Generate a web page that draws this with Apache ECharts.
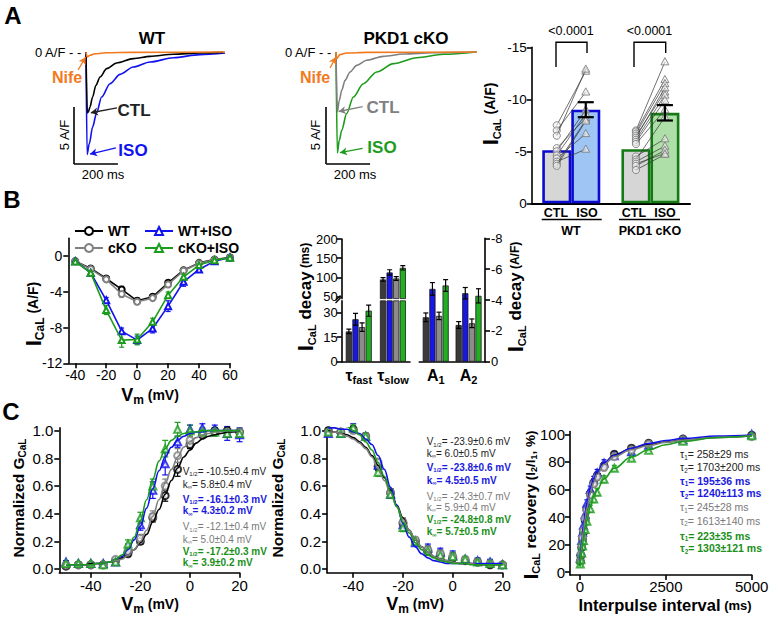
<!DOCTYPE html>
<html>
<head>
<meta charset="utf-8">
<title>ICaL figure</title>
<script src="https://cdn.jsdelivr.net/npm/echarts@6/dist/echarts.min.js"></script>
<style>
html,body{margin:0;padding:0;background:#ffffff;}
#chart{width:772px;height:617px;}
</style>
</head>
<body>
<div id="chart"></div>
<script>
// ================= DATA =================
// Panel A – representative traces (time ms, current A/F)
const wtCtlT  = [0, 6, 11, 18, 30, 45, 64, 94, 139, 215, 291, 397, 518, 624];
const wtCtlI  = [0, -5.35, -5.25, -4.82, -3.95, -2.92, -2.19, -1.46, -0.96, -0.58, -0.38, -0.2, -0.09, -0.03];
const wtIsoT  = [0, 5, 15, 30, 48, 71, 109, 155, 215, 291, 397, 518, 632];
const wtIsoI  = [0, -8.98, -8.04, -6.58, -5.35, -3.95, -2.78, -1.96, -1.32, -0.88, -0.5, -0.23, -0.09];
const wtNifeT = [0, 5, 18, 41, 94, 215, 632];
const wtNifeI = [0, -0.44, -0.29, -0.15, -0.06, -0.03, 0];
const koCtlT  = [0, 6, 15, 26, 41, 64, 94, 139, 215, 306, 442, 639];
const koCtlI  = [0, -5.26, -4.24, -3.36, -2.49, -1.75, -1.17, -0.73, -0.38, -0.18, -0.06, 0];
const koIsoT  = [0, 6, 15, 26, 48, 79, 124, 185, 261, 367, 488, 639];
const koIsoI  = [0, -8.86, -7.75, -6.87, -5.41, -3.95, -2.78, -1.75, -1.02, -0.5, -0.2, 0];
const koNifeT = [0, 3, 18, 48, 139, 639];
const koNifeI = [0, -0.58, -0.23, -0.09, -0.03, 0];
const scaleAF = 5, scaleMs = 200;

// Panel A – peak ICaL bar chart
const barGroups = ['WT', 'PKD1 cKO'];
const ctlMean = [-5.1, -5.2];
const isoMean = [-9.0, -8.7];
const isoSem  = [0.72, 0.74];
const wtCtlPts = [-7.5, -7.0, -6.5, -5.3, -5.0, -4.6, -4.3, -4.0, -3.8, -3.6];
const wtIsoPts = [-12.7, -10.7, -12.9, -8.2, -9.0, -8.6, -6.7, -5.2, -8.0, -7.9];
const koCtlPts = [-7.0, -6.9, -6.7, -6.5, -6.3, -6.1, -5.9, -5.7, -4.5, -4.2, -4.0, -3.8, -3.6, -3.2];
const koIsoPts = [-13.6, -11.9, -11.5, -10.7, -11.1, -10.4, -9.9, -9.0, -6.2, -8.3, -5.5, -4.8, -5.1, -4.7];
const pValues = ['<0.0001', '<0.0001'];

// Panel B – I-V relationship
const ivV = [-40, -30, -20, -10, 0, 10, 20, 30, 40, 50, 60];
const ivWT     = [-0.56, -1.38, -2.5, -3.73, -5.0, -4.55, -2.98, -1.57, -0.75, -0.37, -0.15];
const ivWTsem  = [0.1, 0.12, 0.2, 0.35, 0.3, 0.25, 0.2, 0.15, 0.12, 0.1, 0.08];
const ivKO     = [-0.56, -1.45, -2.6, -4.25, -5.1, -4.7, -3.17, -1.64, -0.8, -0.4, -0.18];
const ivKOsem  = [0.1, 0.12, 0.2, 0.35, 0.3, 0.25, 0.2, 0.15, 0.12, 0.1, 0.08];
const ivWTiso    = [-0.56, -1.87, -4.93, -8.4, -9.4, -8.1, -5.6, -2.87, -1.49, -0.56, -0.15];
const ivWTisoSem = [0.1, 0.15, 0.3, 0.35, 0.45, 0.5, 0.6, 0.5, 0.25, 0.15, 0.1];
const ivKOiso    = [-0.6, -1.87, -6.04, -9.4, -9.33, -7.35, -4.37, -2.31, -1.0, -0.45, -0.19];
const ivKOisoSem = [0.1, 0.15, 0.5, 0.8, 0.6, 0.4, 0.35, 0.3, 0.2, 0.12, 0.1];

// Panel B – decay kinetics
const tauCats = ['τfast', 'τslow'];
const tauWT = [18.4, 94.8],  tauWTsem = [1.4, 4.7];
const tauWTiso = [25.8, 113], tauWTisoSem = [3.6, 7];
const tauKO = [21, 97.4],    tauKOsem = [2.6, 5];
const tauKOiso = [31, 125],  tauKOisoSem = [3.4, 5.6];
const ampCats = ['A1', 'A2'];
const ampWT = [-2.88, -2.38],    ampWTsem = [0.28, 0.22];
const ampWTiso = [-4.72, -4.44], ampWTisoSem = [0.41, 0.37];
const ampKO = [-2.97, -2.49],    ampKOsem = [0.24, 0.28];
const ampKOiso = [-4.94, -4.27], ampKOisoSem = [0.38, 0.46];

// Panel C – activation
const actV = [-50, -45, -40, -35, -30, -25, -20, -15, -10, -5, 0, 5, 10, 15, 20];
const actWT = [0.02, 0.03, 0.03, 0.03, 0.06, 0.11, 0.20, 0.37, 0.53, 0.72, 0.90, 0.97, 1.00, 1.00, 0.99];
const actWTsem = [0.01, 0.01, 0.01, 0.01, 0.01, 0.02, 0.02, 0.03, 0.04, 0.05, 0.03, 0.02, 0.02, 0.02, 0.02];
const actKO = [0.03, 0.03, 0.03, 0.03, 0.07, 0.13, 0.22, 0.38, 0.60, 0.82, 0.93, 0.98, 0.99, 0.99, 0.99];
const actKOsem = [0.01, 0.01, 0.01, 0.01, 0.01, 0.02, 0.03, 0.04, 0.05, 0.05, 0.04, 0.03, 0.02, 0.02, 0.02];
const actWTiso = [0.05, 0.04, 0.04, 0.04, 0.05, 0.15, 0.32, 0.57, 0.76, 0.92, 1.01, 1.02, 1.01, 0.98, 0.97];
const actWTisoSem = [0.01, 0.01, 0.01, 0.01, 0.01, 0.03, 0.04, 0.06, 0.08, 0.04, 0.03, 0.03, 0.03, 0.05, 0.05];
const actKOiso = [0.04, 0.04, 0.04, 0.03, 0.05, 0.18, 0.37, 0.60, 0.87, 1.01, 1.00, 0.99, 0.99, 0.98, 0.98];
const actKOisoSem = [0.01, 0.01, 0.01, 0.01, 0.01, 0.03, 0.04, 0.05, 0.06, 0.05, 0.04, 0.03, 0.03, 0.03, 0.03];
const fitV = [-50, -47.5, -45, -42.5, -40, -37.5, -35, -32.5, -30, -27.5, -25, -22.5, -20, -17.5, -15, -12.5, -10, -7.5, -5, -2.5, 0, 2.5, 5, 7.5, 10, 12.5, 15, 17.5, 20];
const actFitWT    = [0.03,0.03,0.03,0.03,0.04,0.04,0.04,0.05,0.06,0.08,0.10,0.14,0.19,0.25,0.34,0.43,0.54,0.64,0.73,0.81,0.86,0.91,0.94,0.96,0.97,0.98,0.99,0.99,1.00];
const actFitKO    = [0.03,0.03,0.03,0.03,0.03,0.04,0.04,0.05,0.06,0.07,0.10,0.14,0.20,0.28,0.38,0.50,0.62,0.72,0.81,0.88,0.92,0.95,0.97,0.98,0.99,0.99,1.00,1.00,1.00];
const actFitWTiso = [0.03,0.03,0.03,0.03,0.03,0.04,0.04,0.05,0.07,0.09,0.14,0.21,0.31,0.44,0.58,0.71,0.81,0.88,0.93,0.96,0.98,0.99,0.99,1.00,1.00,1.00,1.00,1.00,1.00];
const actFitKOiso = [0.03,0.03,0.03,0.03,0.03,0.04,0.04,0.05,0.07,0.10,0.15,0.23,0.35,0.50,0.65,0.78,0.87,0.93,0.96,0.98,0.99,0.99,1.00,1.00,1.00,1.00,1.00,1.00,1.00];

// Panel C – steady-state inactivation
const inaWT    = [1.00, 0.99, 1.01, 0.96, 0.74, 0.55, 0.33, 0.20, 0.13, 0.10, 0.08, 0.06, 0.05, 0.03, 0.03];
const inaKO    = [0.99, 0.99, 1.00, 0.96, 0.77, 0.55, 0.34, 0.21, 0.14, 0.11, 0.09, 0.07, 0.05, 0.04, 0.03];
const inaWTiso = [0.98, 0.98, 1.03, 0.96, 0.75, 0.54, 0.32, 0.19, 0.15, 0.12, 0.10, 0.07, 0.06, 0.05, 0.03];
const inaKOiso = [0.99, 0.98, 1.02, 0.96, 0.70, 0.54, 0.30, 0.20, 0.13, 0.10, 0.09, 0.07, 0.05, 0.04, 0.03];
const inaSem   = [0.02, 0.02, 0.02, 0.02, 0.03, 0.03, 0.03, 0.02, 0.03, 0.03, 0.03, 0.02, 0.02, 0.02, 0.01];
const inaFitWT    = [1.00,0.99,0.98,0.97,0.95,0.92,0.88,0.82,0.75,0.66,0.57,0.46,0.37,0.28,0.21,0.16,0.12,0.09,0.07,0.06,0.05,0.04,0.04,0.04,0.03,0.03,0.03,0.03,0.03];
const inaFitKO    = [0.99,0.99,0.98,0.96,0.94,0.91,0.87,0.81,0.73,0.64,0.55,0.45,0.36,0.28,0.21,0.16,0.12,0.09,0.07,0.06,0.05,0.04,0.04,0.04,0.03,0.03,0.03,0.03,0.03];
const inaFitWTiso = [1.02,1.02,1.01,1.01,0.99,0.98,0.94,0.90,0.82,0.72,0.59,0.46,0.33,0.23,0.16,0.11,0.08,0.06,0.05,0.04,0.04,0.04,0.04,0.04,0.04,0.04,0.04,0.04,0.04];
const inaFitKOiso = [1.06,1.05,1.04,1.03,1.00,0.97,0.92,0.86,0.77,0.67,0.56,0.45,0.34,0.26,0.19,0.14,0.10,0.08,0.06,0.05,0.04,0.04,0.04,0.03,0.03,0.03,0.03,0.03,0.03];

// Panel C – recovery from inactivation
const recT = [10, 25, 50, 75, 100, 150, 200, 300, 400, 500, 700, 1000, 1500, 2000, 3000, 5000];
const recWT    = [8, 12, 18, 24, 29, 38, 46, 57, 65, 70, 77, 85.5, 89.9, 93.5, 96.6, 99.3];
const recKO    = [8, 13, 19, 25, 30, 39, 45, 56, 64, 69, 76, 83.8, 88.6, 92.8, 96.0, 98.3];
const recWTiso = [10, 15, 23, 29, 34, 42, 50, 60, 67, 72, 79, 84.5, 87.4, 92.0, 96.0, 100];
const recKOiso = [6, 9, 14, 19, 23, 31, 37, 46, 53, 58, 67.4, 75.4, 82.6, 88.5, 95.0, 99.0];
const recSem   = [1, 1.5, 2, 2, 2.5, 2.5, 2.5, 2.5, 2.5, 2.5, 2.5, 2, 1.5, 1, 1, 1];
const recFitT  = [0, 25, 50, 100, 150, 200, 300, 400, 500, 700, 1000, 1500, 2000, 2500, 3000, 4000, 5000];
const recFitWT    = [5, 11.9, 18.1, 29.1, 38.2, 45.8, 57.5, 65.8, 71.7, 79.2, 85.0, 89.7, 92.5, 94.4, 95.8, 97.7, 98.7];
const recFitKO    = [6, 12.8, 19.0, 29.8, 38.7, 46.1, 57.4, 65.2, 70.9, 78.1, 83.8, 88.8, 91.9, 94.1, 95.6, 97.7, 98.7];
const recFitWTiso = [8, 15.7, 22.5, 34.0, 43.1, 50.3, 60.9, 68.0, 72.9, 79.2, 84.5, 89.9, 93.3, 95.5, 97.0, 98.7, 99.4];
const recFitKOiso = [4, 9.7, 14.8, 23.8, 31.2, 37.5, 47.3, 54.5, 59.9, 67.7, 75.4, 83.5, 88.8, 92.4, 94.8, 97.6, 98.9];

// Fit parameter texts
const actTexts = [['V','1/2','= -10.5±0.4 mV'],['k','∞','= 5.8±0.4 mV'],['V','1/2','= -16.1±0.3 mV'],['k','∞','= 4.3±0.2 mV'],
                  ['V','1/2','= -12.1±0.4 mV'],['k','∞','= 5.0±0.4 mV'],['V','1/2','= -17.2±0.3 mV'],['k','∞','= 3.9±0.2 mV']];
const inaTexts = [['V','1/2','= -23.9±0.6 mV'],['k','∞','= 6.0±0.5 mV'],['V','1/2','= -23.8±0.6 mV'],['k','∞','= 4.5±0.5 mV'],
                  ['V','1/2','= -24.3±0.7 mV'],['k','∞','= 5.9±0.4 mV'],['V','1/2','= -24.8±0.8 mV'],['k','∞','= 5.7±0.5 mV']];
const recTexts = [['τ','1','= 258±29 ms'],['τ','2','= 1703±200 ms'],['τ','1','= 195±36 ms'],['τ','2','= 1240±113 ms'],
                  ['τ','1','= 245±28 ms'],['τ','2','= 1613±140 ms'],['τ','1','= 223±35 ms'],['τ','2','= 1303±121 ms']];

// ================= STYLE =================
const FONT = "'Liberation Sans', Arial, Helvetica, sans-serif";
const COL = {wt:'#000000', wtIso:'#1212ee', ko:'#808080', koIso:'#1c9c1c', nife:'#f27a1e'};
const TXT = {wt:'#222222', wtIso:'#1a1ae0', ko:'#7a7a7a', koIso:'#1a8f1a'};
const groupCols = [COL.wt, COL.wtIso, COL.ko, COL.koIso];
const groupTxt = [TXT.wt, TXT.wtIso, TXT.ko, TXT.koIso];
const groupW = ['normal', 'bold', 'normal', 'bold'];
const PI2 = Math.PI / 2;
const zip = (a, b) => a.map((v, i) => [v, b[i]]);
const zip3 = (a, b, c) => a.map((v, i) => [v, b[i], c[i]]);

// ================= HELPERS =================
function merge(base, o) {
  const r = Object.assign({}, base);
  for (const k in o) {
    if (o[k] && typeof o[k] === 'object' && !Array.isArray(o[k]) && base[k] && typeof base[k] === 'object') r[k] = Object.assign({}, base[k], o[k]);
    else r[k] = o[k];
  }
  return r;
}
const AX = {
  splitLine: {show: false},
  axisLine: {show: true, onZero: false, lineStyle: {color: '#000', width: 1.6}},
  axisTick: {show: true, length: 5, lineStyle: {color: '#000', width: 1.6}},
  axisLabel: {color: '#000', fontSize: 14, fontFamily: FONT, margin: 5}
};
function vAxis(gi, o) { return merge(merge(AX, {type: 'value', gridIndex: gi}), o); }
function hidden(gi, min, max) { return {type: 'value', gridIndex: gi, min: min, max: max, show: false, splitLine: {show: false}}; }

function errSeries(gi, data, color, capW, lw, offset, clip, z) {
  return {
    type: 'custom', xAxisIndex: gi, yAxisIndex: gi, silent: true, clip: !!clip, z: z || 4,
    data: data, encode: {x: 0, y: 1},
    renderItem: function (params, api) {
      const x = api.value(0), m = api.value(1), s = api.value(2);
      const a = api.coord([x, m - s]), b = api.coord([x, m + s]);
      const cx = a[0] + (offset || 0), h = capW / 2;
      const st = {stroke: color, lineWidth: lw};
      return {type: 'group', children: [
        {type: 'line', shape: {x1: cx, y1: a[1], x2: cx, y2: b[1]}, style: st},
        {type: 'line', shape: {x1: cx - h, y1: a[1], x2: cx + h, y2: a[1]}, style: st},
        {type: 'line', shape: {x1: cx - h, y1: b[1], x2: cx + h, y2: b[1]}, style: st}
      ]};
    }
  };
}
function trace(gi, t, i, color, extra) {
  return Object.assign({type: 'line', xAxisIndex: gi, yAxisIndex: gi, data: zip(t, i), showSymbol: false, symbol: 'none',
    smooth: 0.3, smoothMonotone: 'x', silent: true, lineStyle: {color: color, width: 1.6}, clip: false}, extra || {});
}
// rich token: size, weight, colour, top padding (subscript shift), line height
function gr(size, weight, color, pad, lh) {
  const o = {fontSize: size, fontWeight: weight || 'bold', fontFamily: FONT};
  if (color) o.fill = color;
  if (pad) o.padding = [pad, 0, 0, 0];
  if (lh) o.lineHeight = lh;
  return o;
}
function gtext(x, y, text, size, weight, color, extra) {
  const e = {type: 'text', x: x, y: y, silent: true, z: 100, rotation: 0,
    style: {text: text, fill: color || '#000', fontFamily: FONT, fontSize: size, fontWeight: weight || 'normal', align: 'center', verticalAlign: 'middle'}};
  if (extra) {
    if (extra.rotation) e.rotation = extra.rotation;
    if (extra.rich) e.style.rich = extra.rich;
    if (extra.align) e.style.align = extra.align;
  }
  return e;
}
function gline(pts, w, color) {
  return {type: 'polyline', silent: true, z: 50, shape: {points: pts}, style: {stroke: color || '#000', lineWidth: w || 1.3, fill: null}};
}
function arrow(from, to, color) {
  return [{coord: from, lineStyle: {color: color, width: 1.3, type: 'solid'}, symbol: 'none'}, {coord: to, symbol: 'arrow', symbolSize: [6, 7]}];
}
function scaleBar(x0, y0) {
  return [
    [{coord: [x0, y0], lineStyle: {color: '#000', width: 1.6, type: 'solid'}}, {coord: [x0, y0 - scaleAF]}],
    [{coord: [x0, y0 - scaleAF], lineStyle: {color: '#000', width: 1.6, type: 'solid'}}, {coord: [x0 + scaleMs, y0 - scaleAF]}]
  ];
}
function paramTexts(x, dy, rows, size) {
  return rows.map((r, k) => {
    const g = Math.floor(k / 2);
    const c = groupTxt[g], w = groupW[g];
    return gtext(x, dy[k], '{a|' + r[0] + '}{b|' + r[1] + '}{a|' + r[2] + '}', size, w, c,
      {align: 'left', rich: {a: gr(size, w, c, 0, size + 2), b: gr(size * 0.6, w, c, size * 0.6, size + 2)}});
  });
}

// ================= SERIES =================
const series = [];
// --- Panel A traces WT (grid 0)
series.push(trace(0, wtIsoT, wtIsoI, COL.wtIso));
series.push(trace(0, wtCtlT, wtCtlI, COL.wt));
series.push(trace(0, wtNifeT, wtNifeI, COL.nife, {
  markLine: {silent: true, animation: false, symbol: ['none', 'none'], label: {show: false},
    data: scaleBar(-55, -4.82).concat([
      arrow([-36, -1.58], [-2, -0.45], COL.nife),
      arrow([141, -4.9], [22, -5.33], '#222'),
      arrow([136, -8.4], [18, -8.95], COL.wtIso)
    ])}
}));
// --- Panel A traces cKO (grid 1)
series.push(trace(1, koIsoT, koIsoI, COL.koIso));
series.push(trace(1, koCtlT, koCtlI, COL.ko));
series.push(trace(1, koNifeT, koNifeI, COL.nife, {
  markLine: {silent: true, animation: false, symbol: ['none', 'none'], label: {show: false},
    data: scaleBar(-45, -4.82).concat([
      arrow([-27, -1.4], [-1, -0.45], COL.nife),
      arrow([121, -4.8], [12, -5.22], COL.ko),
      arrow([121, -8.45], [18, -8.83], COL.koIso)
    ])}
}));

// --- Panel A bar chart (grid 2)
const BAR_W = 29;
const barBorder = ['#0a0ad2', '#157a15'];
series.push({type: 'bar', name: 'CTL bars', xAxisIndex: 2, yAxisIndex: 2, barWidth: BAR_W, barGap: '0%', silent: true, z: 2,
  data: ctlMean.map((v, i) => ({value: v, itemStyle: {color: '#d6d6d6', borderColor: barBorder[i], borderWidth: 2.6}}))});
series.push({type: 'bar', name: 'ISO bars', xAxisIndex: 2, yAxisIndex: 2, barWidth: BAR_W, barGap: '0%', silent: true, z: 2,
  data: isoMean.map((v, i) => ({value: v, itemStyle: {color: i ? '#aedfa8' : '#9fc5f4', borderColor: barBorder[i], borderWidth: 2.6}}))});
const pairData = wtCtlPts.map((c, i) => [0, c, wtIsoPts[i]]).concat(koCtlPts.map((c, i) => [1, c, koIsoPts[i]]));
series.push({type: 'custom', xAxisIndex: 2, yAxisIndex: 2, silent: true, z: 5, data: pairData, encode: {x: 0, y: [1, 2]},
  renderItem: function (params, api) {
    const cat = api.value(0);
    const p1 = api.coord([cat, api.value(1)]), p2 = api.coord([cat, api.value(2)]);
    const x1 = p1[0] - BAR_W / 2, x2 = p2[0] + BAR_W / 2, r = 3.6;
    const st = {stroke: '#808080', lineWidth: 0.9, fill: 'rgba(240,240,240,0.6)'};
    return {type: 'group', children: [
      {type: 'line', shape: {x1: x1, y1: p1[1], x2: x2, y2: p2[1]}, style: {stroke: '#333', lineWidth: 0.7}},
      {type: 'circle', shape: {cx: x1, cy: p1[1], r: r}, style: st},
      {type: 'polygon', shape: {points: [[x2, p2[1] - 4.2], [x2 - 4, p2[1] + 3], [x2 + 4, p2[1] + 3]]}, style: st}
    ]};
  }});
series.push(errSeries(2, isoMean.map((m, i) => [i, m, isoSem[i]]), '#000', 16, 2.2, BAR_W / 2, false, 6));

// --- Panel B I-V (grid 3)
const ivSets = [['WT', ivWT, ivWTsem, 'emptyCircle'], ['cKO', ivKO, ivKOsem, 'emptyCircle'],
                ['WT+ISO', ivWTiso, ivWTisoSem, 'emptyTriangle'], ['cKO+ISO', ivKOiso, ivKOisoSem, 'emptyTriangle']];
const ivCols = [COL.wt, COL.ko, COL.wtIso, COL.koIso];
ivSets.forEach((s, k) => {
  series.push(errSeries(3, zip3(ivV, s[1], s[2]), ivCols[k], 5, 1.2, 0, false, 3));
  series.push({type: 'line', name: s[0], xAxisIndex: 3, yAxisIndex: 3, data: zip(ivV, s[1]), symbol: s[3], symbolSize: 6,
    lineStyle: {color: ivCols[k], width: 1.6}, itemStyle: {color: ivCols[k], borderWidth: 1.3}, silent: true, z: 4 + k});
});

// --- Panel B decay (grids 4,5,6)
const DBW = 6.2, DGAP = 0.4;
const decCols = ['#3a3a3a', '#1818e2', '#8c8c8c', '#22b022'];
const tauSets = [[tauWT, tauWTsem], [tauWTiso, tauWTisoSem], [tauKO, tauKOsem], [tauKOiso, tauKOisoSem]];
const ampSets = [[ampWT, ampWTsem], [ampWTiso, ampWTisoSem], [ampKO, ampKOsem], [ampKOiso, ampKOisoSem]];
[4, 5].forEach(gi => {
  tauSets.forEach((s, k) => {
    series.push({type: 'bar', xAxisIndex: gi, yAxisIndex: gi, data: s[0], barWidth: DBW, barGap: (DGAP / DBW * 100) + '%', silent: true,
      itemStyle: {color: decCols[k], borderColor: '#1a1a1a', borderWidth: 0.8}, clip: true, z: 2});
  });
  tauSets.forEach((s, k) => {
    series.push(errSeries(gi, s[0].map((m, i) => [i, m, s[1][i]]), '#000', 5, 1.2, (k - 1.5) * (DBW + DGAP), true, 4));
  });
});
ampSets.forEach((s, k) => {
  series.push({type: 'bar', xAxisIndex: 6, yAxisIndex: 6, data: s[0], barWidth: DBW, barGap: (DGAP / DBW * 100) + '%', silent: true,
    itemStyle: {color: decCols[k], borderColor: '#1a1a1a', borderWidth: 0.8}, z: 2});
});
ampSets.forEach((s, k) => {
  series.push(errSeries(6, s[0].map((m, i) => [i, m, s[1][i]]), '#000', 5, 1.2, (k - 1.5) * (DBW + DGAP), false, 4));
});

// --- Panel C (grids 7,8,9)
const symFor = ['emptyCircle', 'emptyTriangle', 'emptyCircle', 'emptyTriangle'];
function cPanel(gi, xs, pts, sems, fx, fits, capW) {
  pts.forEach((p, k) => {
    series.push(errSeries(gi, zip3(xs, p, sems[k]), groupCols[k], capW, 1.2, 0, false, 3));
  });
  pts.forEach((p, k) => {
    series.push({type: 'scatter', xAxisIndex: gi, yAxisIndex: gi, data: zip(xs, p), symbol: symFor[k], symbolSize: 7, silent: true,
      itemStyle: {color: groupCols[k], borderWidth: 1.2}, z: 4});
  });
  fits.forEach((f, k) => {
    series.push({type: 'line', xAxisIndex: gi, yAxisIndex: gi, data: zip(fx, f), symbol: 'none', showSymbol: false, smooth: 0.4,
      smoothMonotone: 'x', silent: true, lineStyle: {color: groupCols[k], width: 1.6}, z: 5 + k});
  });
}
cPanel(7, actV, [actWT, actWTiso, actKO, actKOiso], [actWTsem, actWTisoSem, actKOsem, actKOisoSem], fitV,
  [actFitWT, actFitWTiso, actFitKO, actFitKOiso], 6);
cPanel(8, actV, [inaWT, inaWTiso, inaKO, inaKOiso], [inaSem, inaSem, inaSem, inaSem], fitV,
  [inaFitWT, inaFitWTiso, inaFitKO, inaFitKOiso], 6);
cPanel(9, recT, [recWT, recWTiso, recKO, recKOiso], [recSem, recSem, recSem, recSem], recFitT,
  [recFitWT, recFitWTiso, recFitKO, recFitKOiso], 5);

// ================= AXES =================
const xAxes = [], yAxes = [];
xAxes.push(hidden(0, -60, 650)); yAxes.push(hidden(0, -10, 0.5));
xAxes.push(hidden(1, -60, 650)); yAxes.push(hidden(1, -10, 0.5));
// grid 2 bars
xAxes.push(merge(AX, {type: 'category', gridIndex: 2, data: barGroups, axisTick: {show: false}, axisLabel: {show: false},
  axisLine: {show: true, onZero: false, lineStyle: {color: '#000', width: 2}}}));
yAxes.push(vAxis(2, {min: -15, max: 0, interval: 5, inverse: true, axisLabel: {fontSize: 13.5}}));
// grid 3 IV
xAxes.push(vAxis(3, {min: -44.5, max: 60, axisLabel: {customValues: [-40, -20, 0, 20, 40, 60], margin: 5}, axisTick: {customValues: [-40, -20, 0, 20, 40, 60]}}));
yAxes.push(vAxis(3, {min: -12, max: 2, axisLabel: {customValues: [-12, -8, -4, 0], margin: 6}, axisTick: {customValues: [-12, -8, -4, 0]}}));
// grid 4 tau lower
const tauRich = {m: {fontSize: 16, fontWeight: 'bold', fontFamily: FONT, color: '#000', lineHeight: 18},
                 s: {fontSize: 11, fontWeight: 'bold', fontFamily: FONT, color: '#000', padding: [9, 0, 0, 0], lineHeight: 18}};
xAxes.push(merge(AX, {type: 'category', gridIndex: 4, data: tauCats, axisTick: {show: false},
  axisLabel: {margin: 5, interval: 0, formatter: v => '{m|' + v.charAt(0) + '}{s|' + v.slice(1) + '}', rich: tauRich}}));
yAxes.push(vAxis(4, {min: 0, max: 37, axisLabel: {fontSize: 13, margin: 4, customValues: [0, 15, 30]}, axisTick: {customValues: [0, 15, 30]}}));
// grid 5 tau upper
xAxes.push({type: 'category', gridIndex: 5, data: tauCats, show: false});
yAxes.push(vAxis(5, {min: 45, max: 200, axisLabel: {fontSize: 13, margin: 4, customValues: [50, 100, 150, 200]}, axisTick: {customValues: [50, 100, 150, 200]}}));
// grid 6 amplitudes
xAxes.push(merge(AX, {type: 'category', gridIndex: 6, data: ampCats, axisTick: {show: false},
  axisLabel: {margin: 5, interval: 0, formatter: v => '{m|' + v.charAt(0) + '}{s|' + v.slice(1) + '}', rich: tauRich}}));
yAxes.push(vAxis(6, {position: 'right', min: -8, max: 0, interval: 2, inverse: true, axisLabel: {fontSize: 13, margin: 6, formatter: v => String(v)}}));
// grid 7 activation
const c01 = [0, 0.2, 0.4, 0.6, 0.8, 1.0];
xAxes.push(vAxis(7, {min: -52.7, max: 20, axisLabel: {fontSize: 15, margin: 5, customValues: [-40, -20, 0, 20]}, axisTick: {customValues: [-40, -20, 0, 20]}}));
yAxes.push(vAxis(7, {min: -0.027, max: 1.02, axisLabel: {fontSize: 15, margin: 6, customValues: c01, formatter: v => v.toFixed(1)}, axisTick: {customValues: c01}}));
// grid 8 inactivation
xAxes.push(vAxis(8, {min: -50.5, max: 20, axisLabel: {fontSize: 15, margin: 5, customValues: [-40, -20, 0, 20]}, axisTick: {customValues: [-40, -20, 0, 20]}}));
yAxes.push(vAxis(8, {min: -0.027, max: 1.02, axisLabel: {fontSize: 15, margin: 6, customValues: c01, formatter: v => v.toFixed(1)}, axisTick: {customValues: c01}}));
// grid 9 recovery
xAxes.push(vAxis(9, {min: -290, max: 5000, axisLabel: {fontSize: 15, margin: 4, customValues: [0, 2500, 5000], formatter: v => String(v)}, axisTick: {customValues: [0, 2500, 5000]}}));
yAxes.push(vAxis(9, {min: -2, max: 102, axisLabel: {fontSize: 15, margin: 5, customValues: [0, 20, 40, 60, 80, 100], formatter: v => String(v)}, axisTick: {customValues: [0, 20, 40, 60, 80, 100]}}));

const grids = [
  {left: 72.8, top: 46.3, width: 156.2, height: 119.7},
  {left: 322.8, top: 46.3, width: 156.2, height: 119.7},
  {left: 531.7, top: 47.3, width: 158.3, height: 156},
  {left: 68.3, top: 238.3, width: 161.7, height: 125},
  {left: 341.7, top: 300.8, width: 68.3, height: 60.9},
  {left: 341.7, top: 239, width: 68.3, height: 59.6},
  {left: 419.3, top: 238.3, width: 65.7, height: 123.4},
  {left: 59.3, top: 427.9, width: 180.3, height: 144.8},
  {left: 327.1, top: 427.9, width: 175.4, height: 144.8},
  {left: 570, top: 431.5, width: 181.7, height: 143.5}
].map(g => Object.assign({containLabel: false, show: false}, g));

// ================= GRAPHIC (text labels) =================
const vmRich = {v: gr(18, 'bold', null, 0, 16), s: gr(12, 'bold', null, 10, 16), u: gr(14, 'bold', null, 0, 16)};
const graphics = [
  gtext(13, 15, 'A', 24, 'bold'), gtext(12, 199, 'B', 24, 'bold'), gtext(11, 411, 'C', 24, 'bold'),
  // Panel A traces
  gtext(152, 38, 'WT', 17, 'bold'), gtext(406, 38, 'PKD1 cKO', 17, 'bold'),
  gtext(35, 52, '0 A/F - -', 13, 'normal', '#000', {align: 'left'}),
  gtext(285, 52, '0 A/F - -', 13, 'normal', '#000', {align: 'left'}),
  gtext(67, 77, 'Nife', 16, 'bold', COL.nife), gtext(315, 77, 'Nife', 16, 'bold', COL.nife),
  gtext(134, 110, 'CTL', 17, 'bold', '#222'), gtext(383, 107, 'CTL', 17, 'bold', COL.ko),
  gtext(133, 150, 'ISO', 17, 'bold', COL.wtIso), gtext(382, 147, 'ISO', 17, 'bold', COL.koIso),
  gtext(64, 135, '5 A/F', 13, 'normal', '#000', {rotation: PI2}), gtext(315, 135, '5 A/F', 13, 'normal', '#000', {rotation: PI2}),
  gtext(103, 174, '200 ms', 13), gtext(355, 174, '200 ms', 13),
  // Panel A bars
  gtext(571, 31, pValues[0], 12.5), gtext(649.5, 31, pValues[1], 12.5),
  gline([[556, 67], [556, 42.3], [587, 42.3], [587, 53]], 1.4),
  gline([[634, 67], [634, 42.3], [665.7, 42.3], [665.7, 53]], 1.4),
  gtext(556, 212.5, 'CTL', 12.5, 'bold'), gtext(587, 212.5, 'ISO', 12.5, 'bold'),
  gtext(634, 212.5, 'CTL', 12.5, 'bold'), gtext(665, 212.5, 'ISO', 12.5, 'bold'),
  gline([[541.7, 219.5], [601.7, 219.5]], 1.4), gline([[619, 219.5], [680, 219.5]], 1.4),
  gtext(571, 231, barGroups[0], 12.5, 'bold'), gtext(650, 231, barGroups[1], 12.5, 'bold'),
  gtext(490, 114, '{i|I}{s|CaL}{u| (A/F)}', 14, 'bold', '#000', {rotation: PI2, rich: {i: gr(22, 'bold', null, 0, 20), s: gr(11, 'bold', null, 13, 20), u: gr(14, 'bold', null, 0, 20)}}),
  // Panel B IV
  gtext(33, 314, '{i|I}{s|CaL}{u| (A/F)}', 14, 'bold', '#000', {rotation: PI2, rich: {i: gr(22, 'bold', null, 0, 20), s: gr(12, 'bold', null, 13, 20), u: gr(14, 'bold', null, 0, 20)}}),
  gtext(150, 395, '{v|V}{s|m}{u| (mV)}', 14, 'bold', '#000', {rich: vmRich}),
  // Panel B decay
  gtext(305, 297, '{i|I}{s|CaL}{d| decay}{u| (ms)}', 14, 'bold', '#000', {rotation: PI2, rich: {i: gr(22, 'bold', null, 0, 20), s: gr(11, 'bold', null, 13, 20), d: gr(17, 'bold', null, 0, 20), u: gr(12, 'bold', null, 0, 20)}}),
  gtext(515, 297, '{i|I}{s|CaL}{d| decay}{u| (A/F)}', 14, 'bold', '#000', {rotation: PI2, rich: {i: gr(22, 'bold', null, 0, 20), s: gr(11, 'bold', null, 13, 20), d: gr(17, 'bold', null, 0, 20), u: gr(12, 'bold', null, 0, 20)}}),
  gline([[335.5, 300.5], [340.5, 295.5]], 1.2), gline([[335.5, 303], [340.5, 298]], 1.2),
  // Panel C
  gtext(18, 498, '{n|Normalized G}{s|CaL}', 15, 'bold', '#000', {rotation: PI2, rich: {n: gr(15.5, 'bold', null, 0, 18), s: gr(10, 'bold', null, 9, 18)}}),
  gtext(277, 498, '{n|Normalized G}{s|CaL}', 15, 'bold', '#000', {rotation: PI2, rich: {n: gr(15.5, 'bold', null, 0, 18), s: gr(10, 'bold', null, 9, 18)}}),
  gtext(530, 505, '{i|I}{s|CaL}{d| recovery}{u| (I}{t|2}{u|/I}{t|1}{u|, %)}', 14, 'bold', '#000',
    {rotation: PI2, rich: {i: gr(21, 'bold', null, 0, 20), s: gr(11, 'bold', null, 12, 20), d: gr(15.5, 'bold', null, 0, 20), u: gr(13.5, 'bold', null, 0, 20), t: gr(9, 'bold', null, 7, 20)}}),
  gtext(150, 604, '{v|V}{s|m}{u| (mV)}', 14, 'bold', '#000', {rich: vmRich}),
  gtext(415, 604, '{v|V}{s|m}{u| (mV)}', 14, 'bold', '#000', {rich: vmRich}),
  gtext(665, 605, '{d|Interpulse interval}{u| (ms)}', 14, 'bold', '#000', {rich: {d: gr(16.5, 'bold', null, 0, 16), u: gr(13, 'bold', null, 0, 16)}})
].concat(
  paramTexts(182.7, [471, 484, 499, 510.7, 526.7, 539.3, 551, 562.7], actTexts, 10),
  paramTexts(426.7, [441.7, 453.3, 467.3, 480, 496, 507.3, 519.3, 531.7], inaTexts, 10),
  paramTexts(680, [454.3, 467.3, 480.7, 493.3, 507.3, 520.7, 535.7, 548.3], recTexts, 10.5)
);

// ================= OPTION =================
const legendText = {fontSize: 14, fontWeight: 'bold', fontFamily: FONT, color: '#000'};
const option = {
  animation: false,
  backgroundColor: '#ffffff',
  textStyle: {fontFamily: FONT},
  grid: grids,
  xAxis: xAxes,
  yAxis: yAxes,
  legend: [
    {data: ['WT', 'cKO'], orient: 'vertical', left: 74, top: 224, itemWidth: 28, itemHeight: 10, itemGap: 3, selectedMode: false, textStyle: legendText, padding: 0},
    {data: ['WT+ISO', 'cKO+ISO'], orient: 'vertical', left: 144, top: 224, itemWidth: 28, itemHeight: 10, itemGap: 3, selectedMode: false, textStyle: legendText, padding: 0}
  ],
  series: series,
  graphic: graphics
};
const chart = echarts.init(document.getElementById('chart'), null, {renderer: 'svg', width: 772, height: 617});
chart.setOption(option);
</script>
</body>
</html>
